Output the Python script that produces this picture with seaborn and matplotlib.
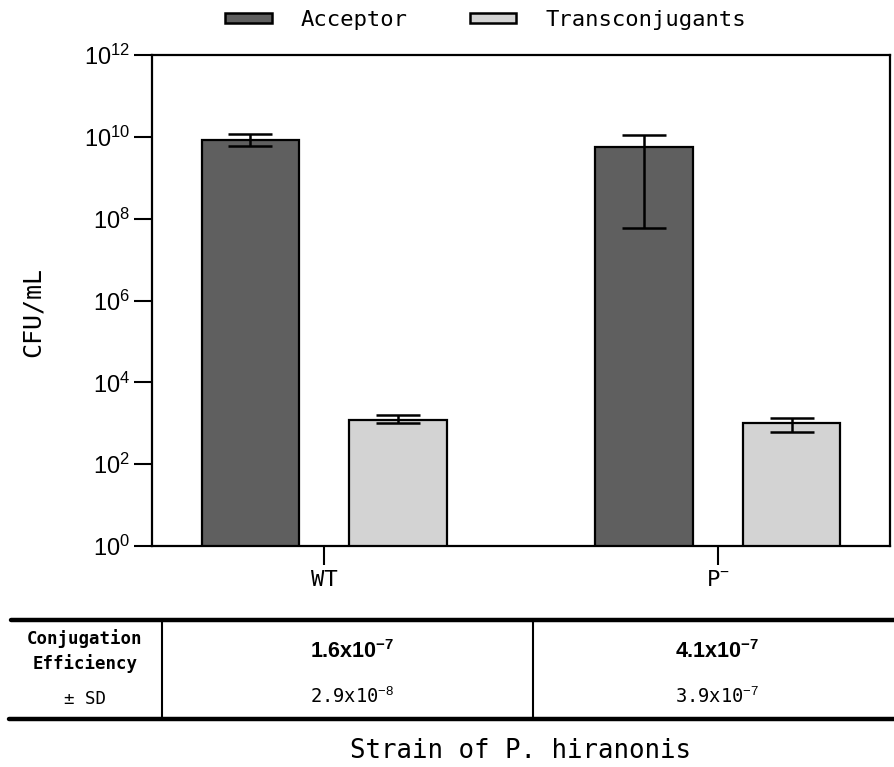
import numpy as np
import pandas as pd
import matplotlib
matplotlib.use("Agg")
import matplotlib.pyplot as plt
import seaborn as sns
from matplotlib.lines import Line2D
from matplotlib.patches import Patch
from matplotlib.container import BarContainer

# ---------------- data ----------------
strains = ["WT", "P⁻"]
strain_tick_labels = ["WT", "P$^{-}$"]
groups = ["Acceptor", "Transconjugants"]
acceptor_mean = [8.3e9, 5.5e9]
acceptor_low = [6.1e9, 6.0e7]
acceptor_high = [1.15e10, 1.12e10]
trans_mean = [1.2e3, 1.0e3]
trans_low = [1.0e3, 6.2e2]
trans_high = [1.58e3, 1.38e3]
ytick_values = [1e0, 1e2, 1e4, 1e6, 1e8, 1e10, 1e12]
ytick_labels = ["$10^{0}$", "$10^{2}$", "$10^{4}$", "$10^{6}$", "$10^{8}$", "$10^{10}$", "$10^{12}$"]
table_row_header = ["Conjugation\nEfficiency", "± SD"]
efficiency = [r"$\mathbf{1.6x10^{-7}}$", r"$\mathbf{4.1x10^{-7}}$"]
efficiency_sd = [r"2.9x10$^{-8}$", r"3.9x10$^{-7}$"]
colors = ["#5f5f5f", "#d3d3d3"]

# ---------------- style ----------------
sns.set_style("white")
plt.rcParams["font.family"] = ["DejaVu Sans Mono", "DejaVu Sans"]
plt.rcParams["mathtext.fontset"] = "custom"
plt.rcParams["mathtext.rm"] = "Liberation Sans"
plt.rcParams["mathtext.it"] = "Liberation Sans:italic"
plt.rcParams["mathtext.bf"] = "Liberation Sans:bold"
for key in ["text.color", "axes.labelcolor", "xtick.color", "ytick.color"]:
    plt.rcParams[key] = "black"

df = pd.DataFrame({
    "strain": strains * 2,
    "type": [groups[0]] * 2 + [groups[1]] * 2,
    "value": acceptor_mean + trans_mean,
})

fig = plt.figure(figsize=(8.94, 7.67), dpi=100)
ax = fig.add_axes([152 / 894, 1 - 546 / 767, (890 - 152) / 894, (546 - 55) / 767])

sns.barplot(data=df, x="strain", y="value", hue="type", order=strains,
            hue_order=groups, palette=colors, width=0.75, gap=0.34,
            edgecolor="black", linewidth=1.6, errorbar=None, ax=ax,
            saturation=1, legend=False)
ax.set_yscale("log")
ax.set_ylim(1, 1e12)
ax.set_xlim(-0.437, 1.437)

# error bars from data, at the library's bar centers
means = [acceptor_mean, trans_mean]
lows = [acceptor_low, trans_low]
highs = [acceptor_high, trans_high]
bar_containers = [c for c in ax.containers if isinstance(c, BarContainer)]
for ci, cont in enumerate(bar_containers):
    xs = [p.get_x() + p.get_width() / 2 for p in cont.patches]
    m = np.array(means[ci]); lo = np.array(lows[ci]); hi = np.array(highs[ci])
    ax.errorbar(xs, m, yerr=[m - lo, hi - m], fmt="none", ecolor="black",
                elinewidth=1.8, capsize=16, capthick=1.8, zorder=5)

for s in ax.spines.values():
    s.set_visible(True)
    s.set_color("black")
    s.set_linewidth(1.6)

ax.set_yticks(ytick_values)
ax.set_yticklabels(ytick_labels)
ax.yaxis.set_minor_locator(matplotlib.ticker.NullLocator())
ax.tick_params(axis="y", which="major", direction="out", length=13, width=1.5,
               labelsize=17, pad=3, left=True)
ax.set_xticks([0, 1])
ax.set_xticklabels(strain_tick_labels)
ax.tick_params(axis="x", direction="out", length=14, width=1.5, labelsize=16,
               pad=3, bottom=True)
for t in ax.get_xticklabels():
    t.set_fontfamily(["DejaVu Sans Mono"])

ax.set_xlabel("")
ax.set_ylabel("CFU/mL", fontsize=18)
ax.yaxis.set_label_coords(-0.145, 0.477)

# legend
handles = [Patch(facecolor=colors[i], edgecolor="black", linewidth=1.8) for i in range(2)]
fig.legend(handles, groups, loc="center", bbox_to_anchor=(0.543, 0.974), ncol=2,
           frameon=False, fontsize=16, handlelength=2.1, handleheight=0.26,
           columnspacing=2.8, handletextpad=1.3)

# table below
def fy(y):
    return 1 - y / 767

def fx(x):
    return x / 894

fig.add_artist(Line2D([fx(11), 1.0], [fy(620), fy(620)], color="black", lw=3.2,
                      transform=fig.transFigure))
fig.add_artist(Line2D([fx(9), 1.0], [fy(719), fy(719)], color="black", lw=3.2,
                      transform=fig.transFigure))
for xv in [162, 533]:
    fig.add_artist(Line2D([fx(xv), fx(xv)], [fy(620), fy(719)], color="black", lw=1.5,
                          transform=fig.transFigure))

fig.text(fx(85), fy(651), table_row_header[0], ha="center", va="center",
         fontsize=12.5, fontweight="bold", linespacing=1.35)
fig.text(fx(85), fy(699), table_row_header[1], ha="center", va="center", fontsize=12.5)
cell_x = [352, 717]
for i in range(2):
    fig.text(fx(cell_x[i]), fy(651), efficiency[i], ha="center", va="center",
             fontsize=15.5)
    fig.text(fx(cell_x[i]), fy(697), efficiency_sd[i], ha="center", va="center",
             fontsize=13.5)

fig.text(fx(521), fy(751), "Strain of P. hiranonis", ha="center", va="center",
         fontsize=18.5)

fig.savefig("out.png", dpi=100)
